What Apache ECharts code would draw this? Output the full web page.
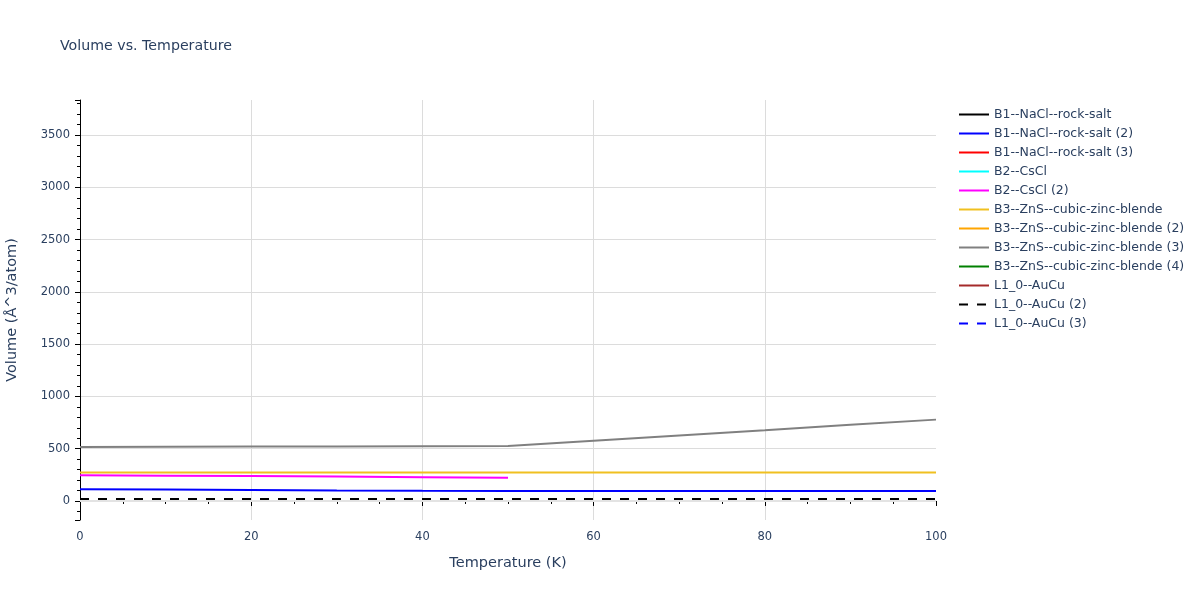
<!DOCTYPE html>
<html>
<head>
<meta charset="utf-8">
<script src="https://cdn.jsdelivr.net/npm/echarts@6/dist/echarts.min.js"></script>
<style>
    html, body { margin: 0; padding: 0; background: #fff; }
    #chart { width: 1200px; height: 600px; }
</style>
</head>
<body>
<div id="chart"></div>
<script>
    // temperatures (K)
    var temps = [0, 10, 20, 30, 40, 50, 60, 70, 80, 90, 100];

    // volumes (Å^3/atom)
    var b1Salt = [];
    var b1Salt2 = [112, 109, 105, 100, 97, 96, 96, 96, 96, 96, 96];
    var b1Salt3 = [];
    var b2CsCl = [];
    var b2CsCl2 = [246, 242, 238, 233, 228, 223];
    var b3Zns = [273, 273, 273, 273, 273, 273, 273, 273, 273, 273, 273];
    var b3Zns2 = [];
    var b3Zns3 = [517, 519, 520, 522, 524, 526, 576, 627, 677, 728, 778];
    var b3Zns4 = [];
    var l10AuCu = [];
    var l10AuCu2 = [20, 20, 20, 20, 20, 20, 20, 20, 20, 20, 20];
    var l10AuCu3 = [];

    var seriesNames = [
        'B1--NaCl--rock-salt', 'B1--NaCl--rock-salt (2)', 'B1--NaCl--rock-salt (3)',
        'B2--CsCl', 'B2--CsCl (2)',
        'B3--ZnS--cubic-zinc-blende', 'B3--ZnS--cubic-zinc-blende (2)',
        'B3--ZnS--cubic-zinc-blende (3)', 'B3--ZnS--cubic-zinc-blende (4)',
        'L1_0--AuCu', 'L1_0--AuCu (2)', 'L1_0--AuCu (3)'
    ];
    var seriesData = [b1Salt, b1Salt2, b1Salt3, b2CsCl, b2CsCl2, b3Zns, b3Zns2,
        b3Zns3, b3Zns4, l10AuCu, l10AuCu2, l10AuCu3];
    var colors = ['#000000', '#0000ff', '#ff0000', '#00ffff', '#ff00ff', '#f0c020',
        '#ffa500', '#808080', '#008000', '#a52a2a', '#000000', '#0000ff'];
    var dashed = [false, false, false, false, false, false, false, false, false, false, true, true];

    var font = 'DejaVu Sans';
    var textColor = '#2a3f5f';

    var chart = echarts.init(document.getElementById('chart'));

    var series = seriesNames.map(function (name, i) {
        var s = {
            name: name,
            type: 'line',
            symbol: 'none',
            showSymbol: false,
            animation: false,
            color: colors[i],
            lineStyle: {
                color: colors[i],
                width: 2,
                type: dashed[i] ? [9, 9] : 'solid'
            },
            data: seriesData[i].map(function (v, j) { return [temps[j], v]; })
        };
        if (i === 0) {
            // zero line
            s.markLine = {
                silent: true,
                symbol: 'none',
                label: { show: false },
                lineStyle: { color: '#e3e3e3', width: 2, type: 'solid' },
                data: [{ yAxis: 0 }],
                z: 1
            };
        }
        return s;
    });

    var option = {
        backgroundColor: '#fff',
        animation: false,
        title: {
            text: 'Volume vs. Temperature',
            left: 60,
            top: 39,
            padding: 0,
            textStyle: { fontFamily: font, fontSize: 14.2, fontWeight: 'normal', color: textColor }
        },
        legend: {
            orient: 'vertical',
            left: 958,
            top: 108,
            padding: 0,
            itemWidth: 30,
            itemHeight: 14,
            itemGap: 6,
            itemStyle: { opacity: 0 },
            textStyle: { fontFamily: font, fontSize: 12.5, color: textColor },
            data: seriesNames
        },
        grid: {
            left: 80,
            right: 264,
            top: 100,
            bottom: 80,
            outerBoundsMode: 'none'
        },
        xAxis: {
            type: 'value',
            min: 0,
            max: 100,
            interval: 20,
            name: 'Temperature (K)',
            nameLocation: 'middle',
            nameGap: 36,
            nameTextStyle: { fontFamily: font, fontSize: 14.5, color: textColor },
            axisLine: { show: true, lineStyle: { color: '#000', width: 1 } },
            axisTick: { show: true, length: 5, lineStyle: { color: '#000' } },
            minorTick: { show: true, splitNumber: 4, length: 3, lineStyle: { color: '#000' } },
            axisLabel: { fontFamily: font, fontSize: 11.5, color: textColor, margin: 11 },
            splitLine: { show: true, showMinLine: false, showMaxLine: false, lineStyle: { color: '#dcdcdc' } }
        },
        yAxis: {
            type: 'value',
            min: -182,
            max: 3835,
            splitNumber: 8,
            name: 'Volume (Å^3/atom)',
            nameLocation: 'middle',
            nameGap: 60,
            nameTextStyle: { fontFamily: font, fontSize: 14.5, color: textColor },
            axisLine: { show: true, onZero: false, lineStyle: { color: '#000', width: 1 } },
            axisTick: { show: true, length: 5, lineStyle: { color: '#000' } },
            minorTick: { show: true, splitNumber: 5, length: 3, lineStyle: { color: '#000' } },
            axisLabel: {
                fontFamily: font, fontSize: 11.5, color: textColor, margin: 10,
                showMinLabel: false, showMaxLabel: false,
                formatter: function (v) { return String(v); }
            },
            splitLine: { show: true, showMinLine: false, showMaxLine: false, lineStyle: { color: '#dcdcdc' } }
        },
        series: series
    };

    chart.setOption(option);
</script>
</body>
</html>
